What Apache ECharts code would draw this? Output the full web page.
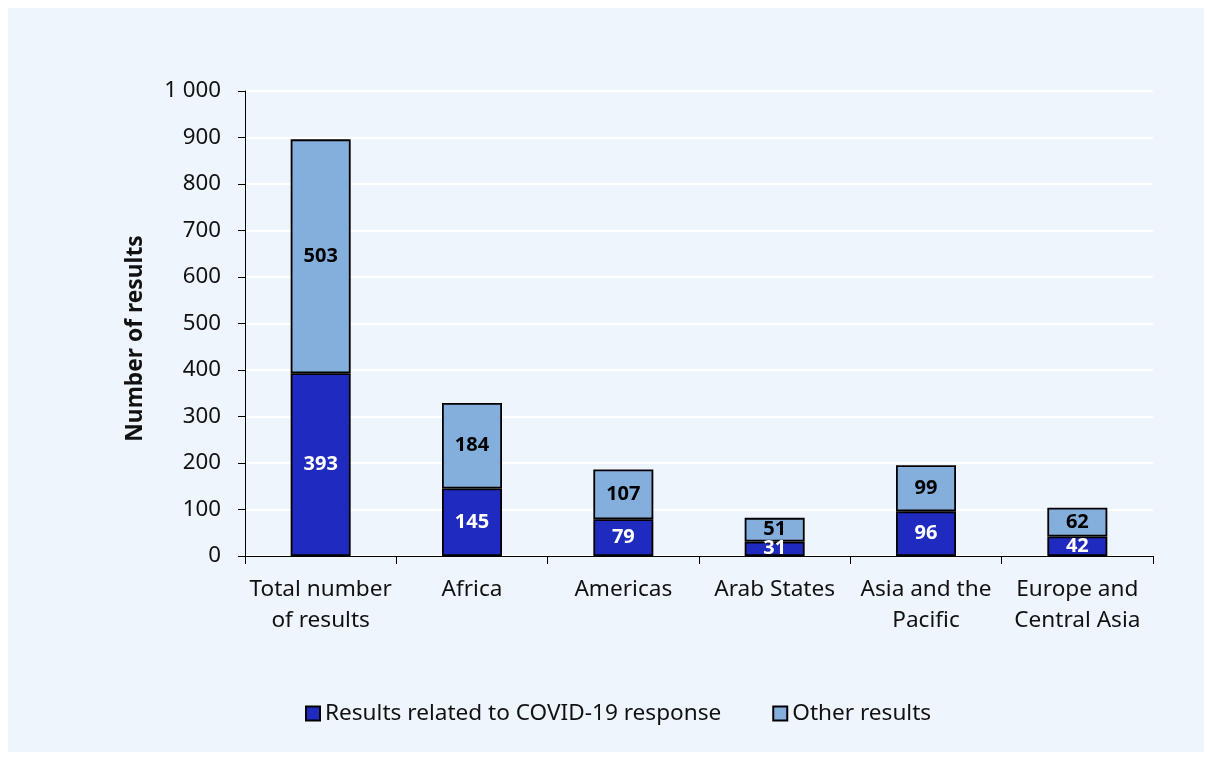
<!DOCTYPE html>
<html>
<head>
<meta charset="utf-8">
<script src="https://cdn.jsdelivr.net/npm/echarts@6/dist/echarts.min.js"></script>
<style>
  html, body { margin: 0; padding: 0; background: #ffffff; }
  #panel { position: absolute; left: 8px; top: 8px; width: 1196px; height: 744px; background: #EEF5FC; }
  #chart { position: absolute; left: 0; top: 0; width: 1207px; height: 760px; }
</style>
</head>
<body>
<div id="panel"></div>
<div id="chart"></div>
<script>
// Results by region
const categories = ['Total number\nof results', 'Africa', 'Americas', 'Arab States', 'Asia and the\nPacific', 'Europe and\nCentral Asia'];
const covidResults = [393, 145, 79, 31, 96, 42];
const otherResults = [503, 184, 107, 51, 99, 62];
const seriesNames = ['Results related to COVID-19 response', 'Other results'];
const yTicks = { min: 0, max: 1000, step: 100 };

const FONT = '"Noto Sans", "Open Sans", sans-serif';

const chart = echarts.init(document.getElementById('chart'), null, { renderer: 'canvas' });

const fmtThousands = v => String(v).replace(/\B(?=(\d{3})+(?!\d))/g, ' ');

chart.setOption({
  backgroundColor: 'transparent',
  animation: false,
  textStyle: { fontFamily: FONT },
  grid: { left: 245, right: 54, top: 91, bottom: 204 },
  legend: {
    top: 697,
    left: 300,
    icon: 'rect',
    itemWidth: 14,
    itemHeight: 14,
    itemGap: 51,
    textStyle: { fontFamily: FONT, fontSize: 22.6, color: '#111' },
    data: seriesNames
  },
  xAxis: {
    type: 'category',
    data: categories,
    axisLine: { lineStyle: { color: '#000', width: 1 } },
    axisTick: { show: true, length: 8, lineStyle: { color: '#000' } },
    axisLabel: { interval: 0, fontFamily: FONT, fontSize: 22.6, color: '#111', lineHeight: 31, margin: 18 }
  },
  yAxis: {
    type: 'value',
    min: yTicks.min,
    max: yTicks.max,
    interval: yTicks.step,
    name: 'Number of results',
    nameLocation: 'middle',
    nameGap: 98,
    nameTextStyle: { fontFamily: FONT, fontSize: 22.8, fontWeight: 'bold', color: '#111', padding: [0, 30, 0, 0] },
    axisLine: { show: true, lineStyle: { color: '#000', width: 1 } },
    axisTick: { show: true, length: 7, lineStyle: { color: '#000' } },
    axisLabel: { fontFamily: FONT, fontSize: 22.3, color: '#111', margin: 24, formatter: fmtThousands },
    splitLine: { show: true, lineStyle: { color: '#ffffff', width: 2 } }
  },
  series: [
    {
      name: seriesNames[0],
      type: 'bar',
      stack: 'total',
      barWidth: 60,
      data: covidResults,
      itemStyle: { color: '#1F2BBE', borderColor: '#000', borderWidth: 1.8 },
      label: { show: true, position: 'inside', fontFamily: FONT, fontSize: 20, fontWeight: 'bold', color: '#ffffff' }
    },
    {
      name: seriesNames[1],
      type: 'bar',
      stack: 'total',
      barWidth: 60,
      data: otherResults,
      itemStyle: { color: '#84AEDB', borderColor: '#000', borderWidth: 1.8 },
      label: { show: true, position: 'inside', fontFamily: FONT, fontSize: 20, fontWeight: 'bold', color: '#000' }
    }
  ]
});
</script>
</body>
</html>
